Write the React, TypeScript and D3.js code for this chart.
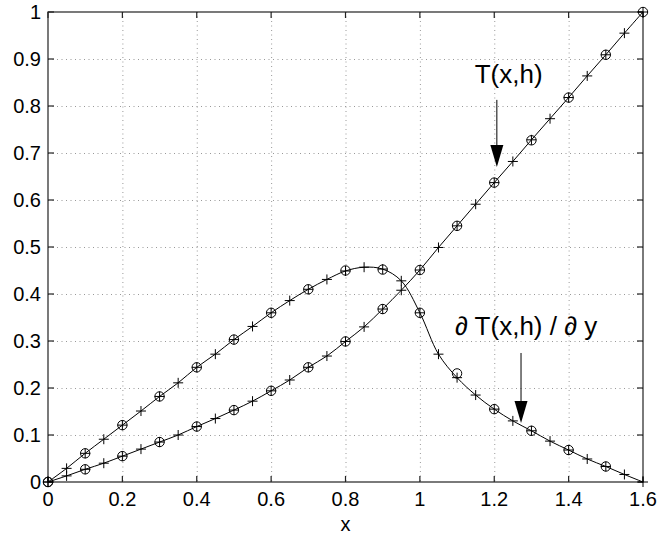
import React from 'react';
import * as d3 from 'd3';

// x positions of the fine (+) samples and the coarse (o) samples
const xFine = [0, 0.05, 0.1, 0.15, 0.2, 0.25, 0.3, 0.35, 0.4, 0.45, 0.5, 0.55, 0.6, 0.65, 0.7, 0.75, 0.8,
  0.85, 0.9, 0.95, 1.0, 1.05, 1.1, 1.15, 1.2, 1.25, 1.3, 1.35, 1.4, 1.45, 1.5, 1.55, 1.6];
const xCoarse = [0, 0.1, 0.2, 0.3, 0.4, 0.5, 0.6, 0.7, 0.8, 0.9, 1.0, 1.1, 1.2, 1.3, 1.4, 1.5, 1.6];

// T(x,h)
const tFine = [0, 0.013, 0.027, 0.040, 0.055, 0.070, 0.085, 0.100, 0.118, 0.135, 0.153, 0.172, 0.194, 0.217,
  0.244, 0.268, 0.299, 0.330, 0.368, 0.408, 0.451, 0.499, 0.545, 0.591, 0.637, 0.682, 0.728, 0.773, 0.818,
  0.864, 0.909, 0.955, 1.0];
const tCoarse = [0, 0.027, 0.055, 0.085, 0.118, 0.153, 0.194, 0.244, 0.299, 0.368, 0.451, 0.545, 0.637,
  0.727, 0.818, 0.909, 1.0];

// dT(x,h)/dy
const dFine = [0, 0.029, 0.061, 0.091, 0.121, 0.151, 0.182, 0.211, 0.244, 0.272, 0.303, 0.331, 0.36, 0.386,
  0.41, 0.431, 0.449, 0.457, 0.453, 0.428, 0.36, 0.272, 0.222, 0.185, 0.155, 0.13, 0.109, 0.087, 0.068,
  0.049, 0.033, 0.016, 0];
const dCoarse = [0, 0.061, 0.121, 0.182, 0.244, 0.303, 0.36, 0.41, 0.45, 0.452, 0.36, 0.231, 0.155, 0.109,
  0.068, 0.033];

const xTicks = [0, 0.2, 0.4, 0.6, 0.8, 1, 1.2, 1.4, 1.6];
const yTicks = [0, 0.1, 0.2, 0.3, 0.4, 0.5, 0.6, 0.7, 0.8, 0.9, 1];

// annotations, in data units
const tLabel = {text: 'T(x,h)', x: 1.2386, y: 0.848, ax: 1.207, ay0: 0.813, ay1: 0.670};
const dLabel = {text: '\u2202 T(x,h) / \u2202 y', x: 1.0945, y: 0.3128, ax: 1.272, ay0: 0.2745, ay1: 0.1255};

const W = 669, H = 536;
const margin = {top: 12, right: 26, bottom: 54, left: 48};
const font = "'Liberation Sans', Arial, Helvetica, sans-serif";

export default function App() {
  const x = d3.scaleLinear().domain([0, 1.6]).range([margin.left, W - margin.right]);
  const y = d3.scaleLinear().domain([0, 1]).range([H - margin.bottom, margin.top]);
  const [x0, x1] = x.range();
  const [y0, y1] = y.range();

  const line = d3.line<number>()
    .x((d, i) => x(xFine[i]))
    .y(d => y(d))
    .curve(d3.curveCatmullRom.alpha(0.5));

  const plus = (cx: number, cy: number, k: string) => (
    <path key={k} d={`M${cx - 5},${cy}H${cx + 5}M${cx},${cy - 5}V${cy + 5}`} stroke="#000" strokeWidth={1} />
  );
  const circ = (cx: number, cy: number, k: string) => (
    <circle key={k} cx={cx} cy={cy} r={4.7} fill="none" stroke="#000" strokeWidth={1} />
  );

  const arrow = (a: typeof tLabel) => {
    const ax = x(a.ax), top = y(a.ay0), tip = y(a.ay1);
    const head = 22, hw = 6.5;
    return (
      <g>
        <line x1={ax} x2={ax} y1={top} y2={tip - head} stroke="#000" strokeWidth={1} />
        <path d={`M${ax - hw},${tip - head}L${ax + hw},${tip - head}L${ax},${tip}Z`} fill="#000" />
      </g>
    );
  };

  return (
    <div style={{position: 'absolute', left: 0, top: 0}}>
      <svg width={W} height={H} style={{display: 'block', background: '#fff'}}>
        <rect x={0} y={0} width={W} height={H} fill="#fff" />
        {/* grid */}
        <g stroke="#999" strokeWidth={1} strokeDasharray="1,3.5">
          {xTicks.slice(1, -1).map(t => (
            <line key={'gx' + t} x1={x(t) + 0.5} x2={x(t) + 0.5} y1={y1} y2={y0} />
          ))}
          {yTicks.slice(1, -1).map(t => (
            <line key={'gy' + t} x1={x0} x2={x1} y1={y(t) + 0.5} y2={y(t) + 0.5} />
          ))}
        </g>
        {/* box + ticks */}
        <g stroke="#222" strokeWidth={1.2}>
          <rect x={x0} y={y1} width={x1 - x0} height={y0 - y1} fill="none" />
          {xTicks.map(t => (
            <g key={'tx' + t}>
              <line x1={x(t)} x2={x(t)} y1={y0} y2={y0 - 6} />
              <line x1={x(t)} x2={x(t)} y1={y1} y2={y1 + 6} />
            </g>
          ))}
          {yTicks.map(t => (
            <g key={'ty' + t}>
              <line x1={x0} x2={x0 + 6} y1={y(t)} y2={y(t)} />
              <line x1={x1} x2={x1 - 6} y1={y(t)} y2={y(t)} />
            </g>
          ))}
        </g>
        {/* tick labels */}
        <g fontFamily={font} fontSize={20} fill="#000">
          {xTicks.map(t => (
            <text key={'lx' + t} x={x(t)} y={y0 + 24} textAnchor="middle">{d3.format('~g')(t)}</text>
          ))}
          {yTicks.map(t => (
            <text key={'ly' + t} x={x0 - 7} y={y(t) + 7} textAnchor="end">{d3.format('~g')(t)}</text>
          ))}
          <text x={(x0 + x1) / 2} y={y0 + 49} textAnchor="middle">x</text>
        </g>
        {/* curves */}
        <path d={line(tFine) || ''} fill="none" stroke="#000" strokeWidth={1} />
        <path d={line(dFine) || ''} fill="none" stroke="#000" strokeWidth={1} />
        {/* markers */}
        <g>
          {tCoarse.map((v, i) => circ(x(xCoarse[i]), y(v), 'tc' + i))}
          {dCoarse.map((v, i) => circ(x(xCoarse[i]), y(v), 'dc' + i))}
          {tFine.map((v, i) => plus(x(xFine[i]), y(v), 'tp' + i))}
          {dFine.map((v, i) => plus(x(xFine[i]), y(v), 'dp' + i))}
        </g>
        {/* annotations */}
        <g fontFamily={font} fontSize={26} fill="#000">
          <text x={x(tLabel.x)} y={y(tLabel.y)} textAnchor="middle">{tLabel.text}</text>
          <text x={x(dLabel.x)} y={y(dLabel.y)} textAnchor="start">{dLabel.text}</text>
        </g>
        {arrow(tLabel)}
        {arrow(dLabel)}
      </svg>
    </div>
  );
}
